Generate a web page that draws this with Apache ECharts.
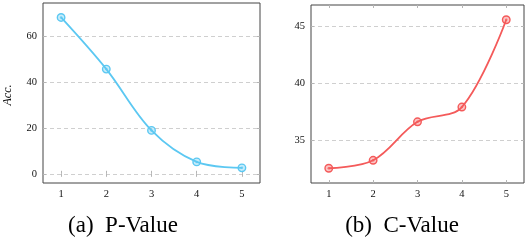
<!DOCTYPE html>
<html>
<head>
<meta charset="utf-8">
<script src="https://cdn.jsdelivr.net/npm/echarts@6/dist/echarts.min.js"></script>
<style>html,body{margin:0;padding:0;background:#fff;}#c{width:526px;height:242px;}</style>
</head>
<body>
<div id="c"></div>
<script>
var xValues = [1, 2, 3, 4, 5];
var pValues = [68.1, 45.6, 18.9, 5.2, 2.6];
var cValues = [32.5, 33.2, 36.6, 37.9, 45.6];
var pTicks = [0, 20, 40, 60];
var cTicks = [35, 40, 45];
var xTicks = [1, 2, 3, 4, 5];
var yLabel = 'Acc.';
var captions = ['(a)\u2002P-Value', '(b)\u2002C-Value'];

var serif = "'Liberation Serif', 'DejaVu Serif', serif";
var chart = echarts.init(document.getElementById('c'), null, {renderer: 'canvas'});

function pts(vals) { return xValues.map(function (x, i) { return [x, vals[i]]; }); }

function xAx(gi, pos, showLabel) {
  return {
    type: 'value', gridIndex: gi, position: pos, min: 0.6, max: 5.4,
    axisLine: {show: false},
    axisTick: {show: true, inside: true, length: 3, customValues: xTicks, lineStyle: {color: '#b5b5b5', width: 1}},
    axisLabel: {show: showLabel, customValues: xTicks, margin: 6, color: '#111', fontFamily: serif, fontSize: 10.5},
    splitLine: {show: false}
  };
}
function yAx(gi, pos, min, max, ticks, showLabel, showSplit) {
  return {
    type: 'value', gridIndex: gi, position: pos, min: min, max: max,
    axisLine: {show: false},
    axisTick: {show: true, inside: true, length: 3, customValues: ticks, lineStyle: {color: '#b5b5b5', width: 1}},
    axisLabel: {show: showLabel, customValues: ticks, margin: 6, color: '#111', fontFamily: serif, fontSize: 10.5},
    splitLine: {show: showSplit, lineStyle: {color: '#cfcfcf', type: [4, 3], width: 1}}
  };
}
function series(xi, yi, vals, color, fill) {
  return [{
    type: 'line', xAxisIndex: xi, yAxisIndex: yi, data: pts(vals), smooth: 0.35,
    lineStyle: {color: color, width: 1.8}, symbol: 'circle', symbolSize: 7.5,
    itemStyle: {color: fill, borderColor: color, borderWidth: 1.4}, z: 3
  }, {
    type: 'scatter', xAxisIndex: xi, yAxisIndex: yi, data: pts(vals), symbol: 'circle', symbolSize: 2.5,
    itemStyle: {color: color}, z: 4
  }];
}

chart.setOption({
  animation: false,
  grid: [
    {left: 43, top: 3, width: 217, height: 180, show: true, borderColor: '#444', borderWidth: 1, backgroundColor: 'transparent'},
    {left: 311, top: 5, width: 213, height: 178, show: true, borderColor: '#444', borderWidth: 1, backgroundColor: 'transparent'}
  ],
  xAxis: [xAx(0, 'bottom', true), xAx(0, 'top', false), xAx(1, 'bottom', true), xAx(1, 'top', false)],
  yAxis: [
    yAx(0, 'left', -4, 74.4, pTicks, true, true), yAx(0, 'right', -4, 74.4, pTicks, false, false),
    yAx(1, 'left', 31.2, 46.9, cTicks, true, true), yAx(1, 'right', 31.2, 46.9, cTicks, false, false)
  ],
  series: [].concat(
    series(0, 0, pValues, '#5cc8f2', 'rgba(92,200,242,0.35)'),
    series(2, 2, cValues, '#f45a5a', 'rgba(244,90,90,0.35)')
  ),
  graphic: [
    {type: 'text', x: 8, y: 95, rotation: Math.PI / 2, style: {text: yLabel, font: 'italic 12px ' + serif, fill: '#111', textAlign: 'center', textVerticalAlign: 'middle'}},
    {type: 'text', x: 123, y: 226, style: {text: captions[0], font: '23px ' + serif, fill: '#000', textAlign: 'center', textVerticalAlign: 'middle'}},
    {type: 'text', x: 402, y: 226, style: {text: captions[1], font: '23px ' + serif, fill: '#000', textAlign: 'center', textVerticalAlign: 'middle'}}
  ]
});
</script>
</body>
</html>
